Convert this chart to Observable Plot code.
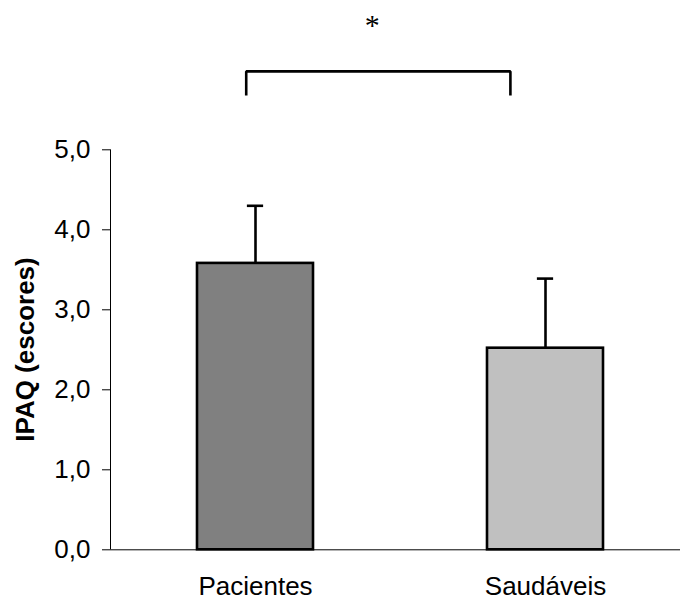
<!DOCTYPE html>
<html>
<head>
<meta charset="utf-8">
<script src="https://cdn.jsdelivr.net/npm/d3@7"></script>
<script src="https://cdn.jsdelivr.net/npm/@observablehq/plot@0.6"></script>
<style>
  html, body { margin: 0; padding: 0; background: #fff; }
</style>
</head>
<body>
<div id="chart"></div>
<script>
// ---- data ----
const categories = ["Pacientes", "Saudáveis"];
const means = [3.58, 2.52];
const sds = [0.72, 0.87];
const barColors = ["#808080", "#c0c0c0"];
const yTicks = [0, 1, 2, 3, 4, 5];
const yTickLabels = ["0,0", "1,0", "2,0", "3,0", "4,0", "5,0"];
const yLabel = "IPAQ (escores)";
// significance annotation (data units: x = category slot, y = IPAQ)
const bracketX = [0.468, 1.379];
const bracketY = [5.68, 5.98];
const starLabel = "*";
const starPos = [0.903, 6.43];

// ---- build ----
const rows = categories.map((c, i) => ({
  cat: c, mid: i + 0.5, mean: means[i], hi: means[i] + sds[i], color: barColors[i]
}));
const halfBar = 0.2;   // half bar width in slot units
const halfCap = 0.028; // half cap width in slot units

const bracket = [
  {x: bracketX[0], y: bracketY[0]},
  {x: bracketX[0], y: bracketY[1]},
  {x: bracketX[1], y: bracketY[1]},
  {x: bracketX[1], y: bracketY[0]}
];

const chart = Plot.plot({
  width: 680,
  height: 601,
  marginLeft: 110,
  marginRight: 0,
  marginTop: 149,
  marginBottom: 52,
  style: {fontFamily: "'Liberation Sans', Arial, sans-serif", fontSize: "26px", background: "#fff", color: "#000"},
  x: {type: "linear", domain: [0, 2], range: [110, 690]},
  y: {domain: [0, 5], range: [549.3, 149.3]},
  marks: [
    // error bars
    Plot.ruleX(rows, {x: "mid", y1: "mean", y2: "hi", stroke: "#000", strokeWidth: 2.6}),
    Plot.ruleY(rows, {y: "hi", x1: d => d.mid - halfCap, x2: d => d.mid + halfCap, stroke: "#000", strokeWidth: 2.6}),
    // bars
    Plot.rectY(rows, {x1: d => d.mid - halfBar, x2: d => d.mid + halfBar, y1: 0, y2: "mean", fill: d => d.color, stroke: "#000", strokeWidth: 2.6}),
    // axes
    Plot.ruleY([0], {stroke: "#000", strokeWidth: 1}),
    Plot.ruleX([0], {y1: 0, y2: 5, stroke: "#000", strokeWidth: 1}),
    Plot.axisY({ticks: yTicks, tickFormat: (d, i) => yTickLabels[i], tickSize: 8, tickPadding: 12, label: null, fontSize: 26}),
    Plot.axisX({ticks: rows.map(d => d.mid), tickFormat: (d, i) => categories[i], tickSize: 0, tickPadding: 27, label: null, fontSize: 26}),
    Plot.text([yLabel], {frameAnchor: "left", rotate: -90, dx: -85, fontWeight: "bold", fontSize: 26, textAnchor: "middle", lineAnchor: "middle"}),
    // significance bracket
    Plot.line(bracket, {x: "x", y: "y", stroke: "#000", strokeWidth: 2.6, strokeLinejoin: "miter", strokeLinecap: "butt"}),
    Plot.text([starLabel], {x: () => starPos[0], y: () => starPos[1], fontFamily: "'Liberation Serif', 'Times New Roman', serif", fontSize: 30, lineAnchor: "bottom", textAnchor: "middle"})
  ]
});
document.getElementById("chart").appendChild(chart);
</script>
</body>
</html>
